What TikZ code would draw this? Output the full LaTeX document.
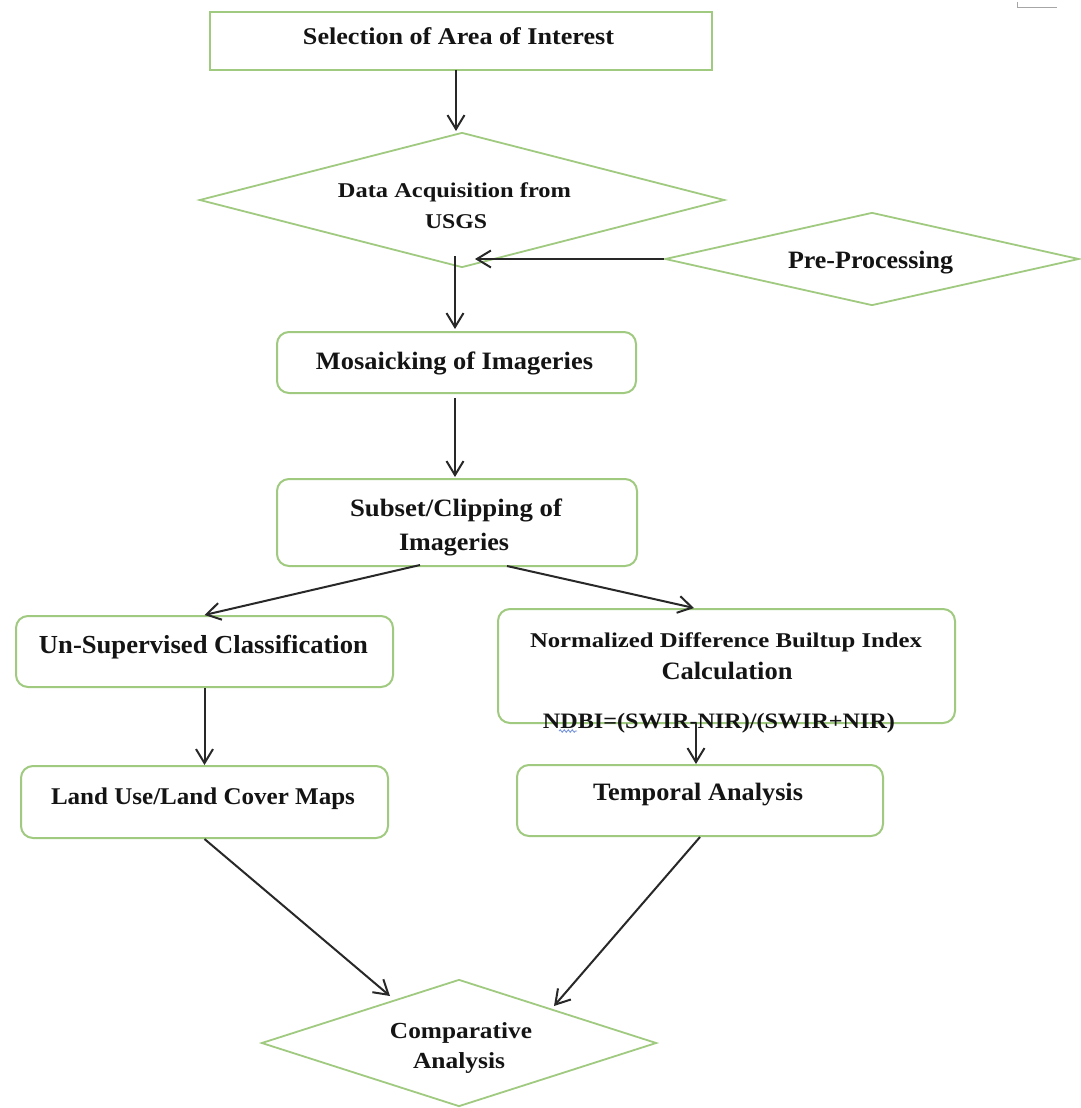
\documentclass[tikz,border=0pt]{standalone}
\usepackage{fontspec}
\setmainfont{Liberation Serif}
\usepackage{graphicx}
\usetikzlibrary{shapes.geometric,arrows.meta,decorations.pathmorphing}
\definecolor{boxgreen}{RGB}{160,202,128}
\definecolor{arrowgray}{RGB}{40,40,40}
\definecolor{txt}{RGB}{20,20,20}
\newcommand{\fitt}[3]{{\fontsize{#1}{#1}\selectfont\bfseries\resizebox{#2pt}{\height}{#3}}}
\tikzset{
  boxsq/.style={draw=boxgreen, line width=2pt, rectangle, inner sep=0pt},
  boxrd/.style={draw=boxgreen, line width=2pt, rectangle, rounded corners=12pt, inner sep=0pt},
  dia/.style={draw=boxgreen, line width=1.8pt, diamond, inner sep=0pt},
  lbl/.style={anchor=base, inner sep=0pt, text=txt},
  arr/.style={draw=arrowgray, line width=2pt, -{Straight Barb[length=14pt,width=17pt,line width=2pt]}},
}
\begin{document}
\begin{tikzpicture}[x=1pt,y=-1pt]
\useasboundingbox[fill=white] (0,0) rectangle (1080,1108);
% shapes
\node[boxsq, minimum width=502pt, minimum height=58pt] (sel) at (461,41) {};
\node[dia, minimum width=525pt, minimum height=135pt] (daq) at (462,200) {};
\node[dia, minimum width=414pt, minimum height=93pt] (pre) at (872,259) {};
\node[boxrd, minimum width=359pt, minimum height=61pt] (mos) at (456.5,362.5) {};
\node[boxrd, minimum width=360pt, minimum height=87pt] (sub) at (457,522.5) {};
\node[boxrd, minimum width=377pt, minimum height=71pt] (uns) at (204.5,651.5) {};
\node[boxrd, minimum width=457pt, minimum height=114pt] (ndbi) at (726.5,666) {};
\node[boxrd, minimum width=367pt, minimum height=72pt] (lu) at (204.5,802) {};
\node[boxrd, minimum width=366pt, minimum height=71pt] (tmp) at (700,800.5) {};
\node[dia, minimum width=395pt, minimum height=127pt] (cmp) at (459,1043) {};
% texts
\node[lbl] (tsel) at (458.5,45) {\fitt{24}{311}{Selection of Area of Interest}};
\node[lbl] (tdaq1) at (454.5,197) {\fitt{21}{233}{Data Acquisition from}};
\node[lbl] (tdaq2) at (456,228) {\fitt{21}{62}{USGS}};
\node[lbl] (tpre) at (870.5,268) {\fitt{25}{165}{Pre-Processing}};
\node[lbl] (tmos) at (454.5,369) {\fitt{25}{277}{Mosaicking of Imageries}};
\node[lbl] (tsub1) at (456,516) {\fitt{25}{212}{Subset/Clipping of}};
\node[lbl] (tsub2) at (454,550) {\fitt{25}{110}{Imageries}};
\node[lbl] (tuns) at (203.5,653) {\fitt{26}{329}{Un-Supervised Classification}};
\node[lbl] (tlu) at (203,804) {\fitt{24}{304}{Land Use/Land Cover Maps}};
\node[lbl] (tnd1) at (726,647) {\fitt{21}{392}{Normalized Difference Builtup Index}};
\node[lbl] (tnd2) at (727,679) {\fitt{25}{131}{Calculation}};
\node[lbl] (tnd3) at (719,728) {\fitt{22}{352}{NDBI=(SWIR-NIR)/(SWIR+NIR)}};
\node[lbl] (ttmp) at (698,800) {\fitt{25}{210}{Temporal Analysis}};
\node[lbl] (tcmp1) at (461,1038) {\fitt{23}{142}{Comparative}};
\node[lbl] (tcmp2) at (459,1068) {\fitt{23}{92}{Analysis}};
% spell-check squiggle
\coordinate (sqA) at (559,731);
\coordinate (sqB) at (577,731);
\draw[draw={rgb,255:red,120;green,150;blue,220}, line width=0.9pt, decorate, decoration={snake, amplitude=1.2pt, segment length=4pt}] (sqA) -- (sqB);
% free ends
\coordinate (daqOut) at (455,256);
\coordinate (preTip) at (475,259);
\coordinate (subL) at (420,565);
\coordinate (subR) at (507,566);
\coordinate (ndTip) at (694,608);
\coordinate (ndOut) at (696,723);
\coordinate (cmpL) at (390,996);
\coordinate (cmpR) at (554,1006);
\coordinate (selOut) at (456,70);
\coordinate (daqIn) at (456,131);
\coordinate (mosOut) at (455,398);
\coordinate (subIn) at (455,477);
\coordinate (mosIn) at (455,329);
% connectors
\draw[arr] (selOut) -- (daqIn);
\draw[arr] (pre.west) -- (preTip);
\draw[arr] (daqOut) -- (mosIn);
\draw[arr] (mosOut) -- (subIn);
\draw[arr] (subL) -- (uns.north);
\draw[arr] (subR) -- (ndTip);
\draw[arr] (uns.south) -- (lu.north);
\draw[arr] (ndOut) -- (tmp.north -| ndOut);
\draw[arr] (lu.south) -- (cmpL);
\draw[arr] (tmp.south) -- (cmpR);
% corner mark
\coordinate (mk1) at (1017,2);
\coordinate (mk2) at (1017,8);
\coordinate (mk3) at (1057,8);
\draw[gray!70, line width=1pt] (mk1) -- (mk2) -- (mk3);
\end{tikzpicture}
\end{document}
